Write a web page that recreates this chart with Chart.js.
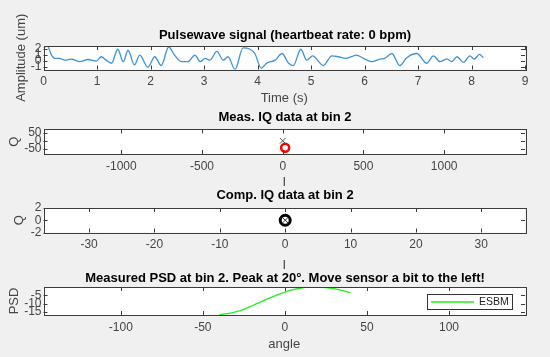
<!DOCTYPE html>
<html>
<head>
<meta charset="utf-8">
<script src="https://cdn.jsdelivr.net/npm/chart.js@4.4.1/dist/chart.umd.min.js"></script>
<style>
  html, body { margin: 0; padding: 0; background: #f0f0f0; overflow: hidden; }
  #fig { position: relative; width: 550px; height: 357px; }
  #fig canvas { position: absolute; left: 0; top: 0; }
</style>
</head>
<body>
<div id="fig">
  <canvas id="pulse" width="550" height="357"></canvas>
  <canvas id="meas" width="550" height="357"></canvas>
  <canvas id="comp" width="550" height="357"></canvas>
  <canvas id="psd" width="550" height="357"></canvas>
</div>
<script>
// --- pulse wave (time in s, amplitude in um)
const pulseTime = [0, 0.07, 0.15, 0.21, 0.30, 0.40, 0.52, 0.68, 0.83, 0.99, 1.08, 1.17, 1.27, 1.39, 1.49,
  1.58, 1.70, 1.80, 1.95, 2.08, 2.20, 2.34, 2.45, 2.58, 2.70, 2.83, 2.93, 3.02, 3.11, 3.24, 3.36, 3.45,
  3.58, 3.73, 3.86, 3.95, 4.07, 4.17, 4.33, 4.46, 4.58, 4.67, 4.81, 4.92, 5.03, 5.23, 5.39, 5.51, 5.64,
  5.76, 5.85, 5.98, 6.13, 6.29, 6.38, 6.51, 6.66, 6.79, 6.98, 7.16, 7.29, 7.41, 7.54, 7.63, 7.73, 7.85,
  7.97, 8.05, 8.15, 8.22];
const pulseAmp = [2.2, 2.5, 0.95, 0.4, 0.4, 0.1, 0.28, -0.17, 0.2, -0.06, 0.67, 0.1, -0.44, 1.95, -0.17,
  1.78, -0.72, 0.94, -1.1, 0.67, -0.83, 2.33, 0.94, -0.17, -0.17, 0.94, -0.17, 0.4, 0.1, 1.6, 0.1, 0.67,
  -1.5, 2.17, 1.95, 1.22, -1.28, -0.44, 0.1, 1.22, -0.44, -0.83, 1.95, 0.1, 0.83, -0.83, 0.83, 0.67, 0.4,
  0.7, 0.94, 0.4, -0.17, 0.28, 0.4, 1.22, -0.83, 0.5, 1.22, -0.44, 0.83, -0.17, 0.28, -0.17, 0.67, -0.28,
  0.83, 0.28, 1.06, 0.5];
const pulseXTicks = [0, 1, 2, 3, 4, 5, 6, 7, 8, 9];
const pulseYTicks = [-1, 0, 1, 2];

// --- measured IQ at bin 2
const measCenterI = [0];
const measCenterQ = [0];
const measI = [15];
const measQ = [-44];
const measXTicks = [-1000, -500, 0, 500, 1000];
const measYTicks = [-50, 0, 50];

// --- compensated IQ at bin 2
const compI = [0];
const compQ = [0];
const compXTicks = [-30, -20, -10, 0, 10, 20, 30];
const compYTicks = [-2, 0, 2];

// --- PSD over angle
const psdAngle = [-40, -35, -30, -25, -20, -15, -10, -5, 0, 5, 10, 15, 20, 25, 30, 35, 40];
const psdValue = [-16.6, -15.9, -14.8, -13.3, -11.2, -9.0, -6.8, -4.8, -3.0, -1.6, -0.6, -0.1, 0, -0.3, -1.0, -2.1, -3.4];
const psdXTicks = [-100, -50, 0, 50, 100];
const psdYTicks = [-15, -10, -5];

const FONT = '"Liberation Sans", Arial, sans-serif';
const GREY = '#454545';

function toPoints(xs, ys) {
  return xs.map((x, i) => ({ x: x, y: ys[i] }));
}

function fixedTicks(values) {
  return scale => { scale.ticks = values.map(v => ({ value: v })); };
}

// white axes area, full box and inward tick marks like matlab
const boxPlugin = {
  id: 'boxPlugin',
  beforeDraw(chart) {
    const a = chart.chartArea, ctx = chart.ctx;
    ctx.save();
    ctx.fillStyle = '#fff';
    ctx.fillRect(a.left, a.top, a.right - a.left, a.bottom - a.top);
    ctx.restore();
  },
  afterDraw(chart) {
    const a = chart.chartArea, ctx = chart.ctx;
    const len = 4;
    ctx.save();
    ctx.strokeStyle = '#3c3c3c';
    ctx.lineWidth = 1;
    ctx.beginPath();
    chart.scales.x.ticks.forEach(t => {
      const px = Math.round(chart.scales.x.getPixelForValue(t.value)) + 0.5;
      ctx.moveTo(px, a.top); ctx.lineTo(px, a.top + len);
      ctx.moveTo(px, a.bottom); ctx.lineTo(px, a.bottom - len);
    });
    chart.scales.y.ticks.forEach(t => {
      const py = Math.round(chart.scales.y.getPixelForValue(t.value)) + 0.5;
      ctx.moveTo(a.left, py); ctx.lineTo(a.left + len, py);
      ctx.moveTo(a.right, py); ctx.lineTo(a.right - len, py);
    });
    ctx.stroke();
    ctx.strokeRect(Math.round(a.left) + 0.5, Math.round(a.top) + 0.5,
      Math.round(a.right - a.left), Math.round(a.bottom - a.top));
    ctx.restore();
  }
};

// legend box in the lower right of the PSD axes
const legendPlugin = {
  id: 'legendPlugin',
  afterDraw(chart) {
    const a = chart.chartArea, ctx = chart.ctx;
    const ds = chart.data.datasets[0];
    const w = 85, h = 15;
    const x0 = a.right - 13 - w, y0 = a.bottom - 6 - h;
    ctx.save();
    ctx.fillStyle = '#fff';
    ctx.fillRect(x0, y0, w, h);
    ctx.strokeStyle = '#333';
    ctx.lineWidth = 1;
    ctx.strokeRect(Math.round(x0) + 0.5, Math.round(y0) + 0.5, w, h);
    ctx.strokeStyle = ds.borderColor;
    ctx.lineWidth = 1.3;
    ctx.beginPath();
    ctx.moveTo(x0 + 4, y0 + h / 2 + 0.5);
    ctx.lineTo(x0 + 47, y0 + h / 2 + 0.5);
    ctx.stroke();
    ctx.fillStyle = '#222';
    ctx.font = '10.5px ' + FONT;
    ctx.textBaseline = 'middle';
    ctx.fillText(ds.label, x0 + 52, y0 + h / 2 + 1);
    ctx.restore();
  }
};

function makePanel(id, p, extra) {
  return new Chart(document.getElementById(id), {
    type: 'scatter',
    data: { datasets: p.datasets },
    options: {
      responsive: false,
      animation: false,
      events: [],
      layout: { padding: { left: 20, right: 0, top: p.padTop, bottom: p.padBottom } },
      plugins: {
        legend: { display: false },
        tooltip: { enabled: false },
        title: {
          display: true, text: p.title, color: '#000',
          font: { family: FONT, size: 13, weight: 'bold', lineHeight: 1.2 },
          padding: { top: 0, bottom: p.titleGap }
        }
      },
      scales: {
        x: {
          type: 'linear', min: p.xMin, max: p.xMax,
          afterBuildTicks: fixedTicks(p.xTicks),
          afterFit: s => { s.height = p.xHeight; },
          grid: { display: false, drawTicks: false },
          border: { display: false },
          ticks: { autoSkip: false, maxRotation: 0, padding: 5, color: GREY,
                   font: { family: FONT, size: 12 }, callback: v => String(v) },
          title: { display: true, text: p.xLabel, color: GREY, padding: 0,
                   font: { family: FONT, size: 13, lineHeight: 1.2 } }
        },
        y: {
          type: 'linear', position: 'left', min: p.yMin, max: p.yMax,
          afterBuildTicks: fixedTicks(p.yTicks),
          afterFit: s => { s.width = 23.5; },
          grid: { display: false, drawTicks: false },
          border: { display: false },
          ticks: { autoSkip: false, padding: 2, color: GREY,
                   font: { family: FONT, size: 12 }, callback: v => String(v) },
          title: { display: true, text: p.yLabel, color: GREY, padding: { top: p.yTitlePad, bottom: 0 },
                   font: { family: FONT, size: 13, lineHeight: 1.2 } }
        },
        yR: {
          type: 'linear', position: 'right', display: true,
          afterFit: s => { s.width = 25; },
          grid: { display: false, drawTicks: false },
          border: { display: false },
          ticks: { display: false }
        }
      }
    },
    plugins: [boxPlugin].concat(extra || [])
  });
}

makePanel('pulse', {
  title: 'Pulsewave signal (heartbeat rate: 0 bpm)',
  xLabel: 'Time (s)', yLabel: 'Amplitude (um)',
  xMin: 0, xMax: 9, yMin: -1.5, yMax: 2.5,
  xTicks: pulseXTicks, yTicks: pulseYTicks,
  padTop: 27.2, titleGap: 3.2, padBottom: 250.7, xHeight: 36.8, yTitlePad: -6.8,
  datasets: [{
    data: toPoints(pulseTime, pulseAmp), showLine: true, pointRadius: 0,
    borderColor: '#3b93d6', borderWidth: 1.3, cubicInterpolationMode: 'monotone'
  }]
});

makePanel('meas', {
  title: 'Meas. IQ data at bin 2',
  xLabel: 'I', yLabel: 'Q',
  xMin: -1482, xMax: 1501, yMin: -83.5, yMax: 72,
  xTicks: measXTicks, yTicks: measYTicks,
  padTop: 109.2, titleGap: 4.6, padBottom: 167.2, xHeight: 35.8, yTitlePad: -13.3,
  datasets: [{
    data: toPoints(measCenterI, measCenterQ), pointStyle: 'crossRot', pointRadius: 4,
    borderColor: '#555', borderWidth: 1
  }, {
    data: toPoints(measI, measQ), pointStyle: 'circle', pointRadius: 4,
    borderColor: '#ff0000', backgroundColor: 'rgba(0,0,0,0)', borderWidth: 2.5
  }]
});

makePanel('comp', {
  title: 'Comp. IQ data at bin 2',
  xLabel: 'I', yLabel: 'Q',
  xMin: -36.98, xMax: 36.69, yMin: -2, yMax: 2,
  xTicks: compXTicks, yTicks: compYTicks,
  padTop: 187.7, titleGap: 4.7, padBottom: 84.2, xHeight: 40.3, yTitlePad: -8.8,
  datasets: [{
    data: toPoints(compI, compQ), pointStyle: 'crossRot', pointRadius: 4,
    borderColor: '#333', borderWidth: 1
  }, {
    data: toPoints(compI, compQ), pointStyle: 'circle', pointRadius: 5,
    borderColor: '#000', backgroundColor: 'rgba(0,0,0,0)', borderWidth: 3
  }]
});

makePanel('psd', {
  title: 'Measured PSD at bin 2. Peak at 20°. Move sensor a bit to the left!',
  xLabel: 'angle', yLabel: 'PSD',
  xMin: -147.1, xMax: 146.3, yMin: -16.7, yMax: 0,
  xTicks: psdXTicks, yTicks: psdYTicks,
  padTop: 270.7, titleGap: 0.7, padBottom: 5.2, xHeight: 36.8, yTitlePad: -13.8,
  datasets: [{
    label: 'ESBM',
    data: toPoints(psdAngle, psdValue), showLine: true, pointRadius: 0,
    borderColor: '#22ee22', borderWidth: 1.3, tension: 0.3
  }]
}, [legendPlugin]);
</script>
</body>
</html>
